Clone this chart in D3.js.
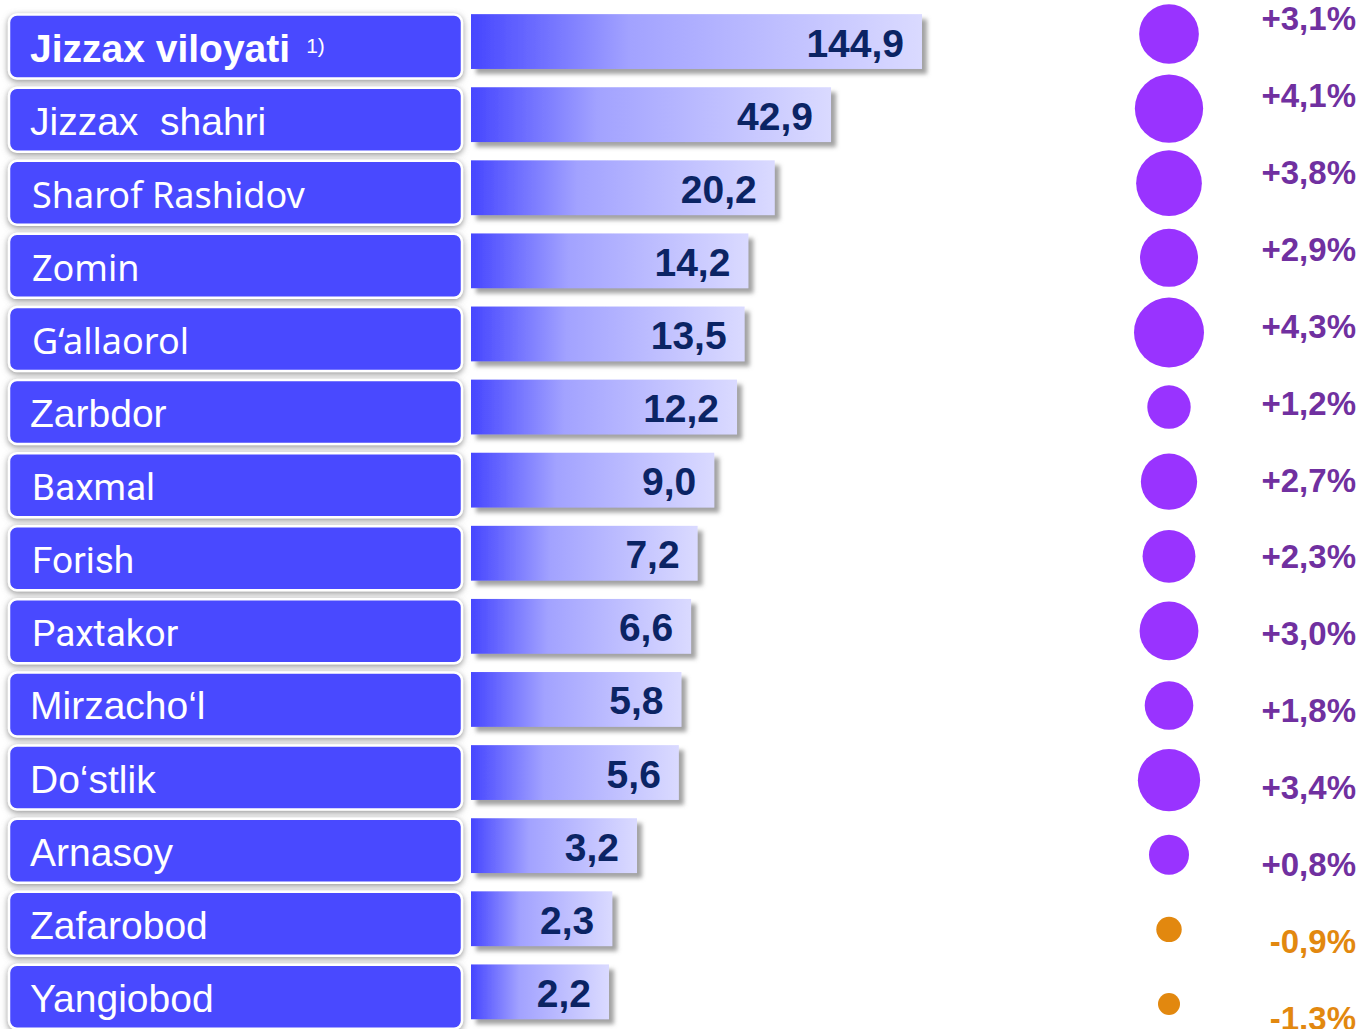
<!DOCTYPE html>
<html>
<head>
<meta charset="utf-8">
<script src="https://cdn.jsdelivr.net/npm/d3@7"></script>
<style>
body { margin: 0; background: #fff; }
</style>
</head>
<body>
<script>
const regions = ["Jizzax viloyati", "Jizzax  shahri", "Sharof Rashidov", "Zomin", "G‘allaorol", "Zarbdor", "Baxmal", "Forish", "Paxtakor", "Mirzacho‘l", "Do‘stlik", "Arnasoy", "Zafarobod", "Yangiobod"];
const values = [144.9, 42.9, 20.2, 14.2, 13.5, 12.2, 9.0, 7.2, 6.6, 5.8, 5.6, 3.2, 2.3, 2.2];
const growth = [3.1, 4.1, 3.8, 2.9, 4.3, 1.2, 2.7, 2.3, 3.0, 1.8, 3.4, 0.8, -0.9, -1.3];
const footnote = "1)";

const width = 1362;
const height = 1029;
const barX0 = 471;

const svg = d3.select("body").append("svg")
  .attr("width", width)
  .attr("height", height);

const defs = svg.append("defs");

const grad = defs.append("linearGradient")
  .attr("id", "barGrad")
  .attr("x1", "0%").attr("x2", "100%")
  .attr("y1", "0%").attr("y2", "0%");
grad.append("stop").attr("offset", "0%").attr("stop-color", "#4646ff");
grad.append("stop").attr("offset", "35%").attr("stop-color", "#a2a2ff");
grad.append("stop").attr("offset", "100%").attr("stop-color", "#dadaff");

defs.append("filter")
  .attr("id", "barShadow")
  .attr("x", "-5%").attr("y", "-20%")
  .attr("width", "115%").attr("height", "150%")
  .append("feDropShadow")
  .attr("dx", 5).attr("dy", 5)
  .attr("stdDeviation", 2)
  .attr("flood-color", "#999")
  .attr("flood-opacity", 0.9);

defs.append("filter")
  .attr("id", "boxShadow")
  .attr("x", "-5%").attr("y", "-20%")
  .attr("width", "110%").attr("height", "145%")
  .append("feDropShadow")
  .attr("dx", 0).attr("dy", 2)
  .attr("stdDeviation", 3)
  .attr("flood-color", "#888")
  .attr("flood-opacity", 0.9);

// row positions
const y = d3.scaleBand()
  .domain(regions)
  .range([5, 5 + 73.1 * regions.length])
  .paddingInner(0.25)
  .paddingOuter(0.125);

const yDot = d3.scalePoint()
  .domain(regions)
  .range([34, 1004]);

const yPct = d3.scalePoint()
  .domain(regions)
  .range([30, 1030]);

const x = d3.scaleLog()
  .domain([2.2, 144.9])
  .range([barX0 + 138, barX0 + 451]);

const r = d3.scaleLinear()
  .domain([-1.3, 4.3])
  .range([11, 35]);

const locale = d3.formatLocale({ decimal: ",", thousands: " ", grouping: [3], currency: ["", ""], minus: "-" });
const fmtVal = locale.format(".1f");
const fmtPct = locale.format("+.1f");

const rows = regions.map((name, i) => ({ name, value: values[i], growth: growth[i], i }));

function labelFont(name) {
  if (["Sharof Rashidov", "Zomin", "G‘allaorol"].includes(name)) return { family: "'Noto Sans'", size: 36, x: 32 };
  if (["Baxmal", "Forish", "Paxtakor"].includes(name)) return { family: "Roboto", size: 37, x: 32 };
  return { family: "'Liberation Sans', Arial, sans-serif", size: 39, x: 30 };
}

// label boxes
const labels = svg.append("g").attr("class", "labels")
  .selectAll("g")
  .data(rows)
  .enter().append("g")
  .attr("transform", (d) => `translate(0, ${ y(d.name) + y.bandwidth() / 2 + 5 })`);

labels.append("rect")
  .attr("x", 9)
  .attr("y", -32)
  .attr("width", 453)
  .attr("height", 64)
  .attr("rx", 8)
  .attr("fill", "#4848ff")
  .attr("stroke", "#fff")
  .attr("stroke-width", 2.5)
  .attr("filter", "url(#boxShadow)");

const labelText = labels.append("text")
  .attr("x", (d) => labelFont(d.name).x)
  .attr("y", 15)
  .style("white-space", "pre")
  .style("font-family", (d) => labelFont(d.name).family)
  .style("font-size", (d) => `${ labelFont(d.name).size }px`)
  .style("font-weight", (d) => d.i === 0 ? "bold" : "normal")
  .attr("fill", "#fff")
  .text((d) => d.name);

labelText.filter((d) => d.i === 0)
  .append("tspan")
  .attr("dx", 16)
  .attr("dy", -9)
  .style("font-size", "21px")
  .style("font-weight", "normal")
  .text(footnote);

// bars
const bars = svg.append("g").attr("class", "bars")
  .selectAll("g")
  .data(rows)
  .enter().append("g");

bars.append("rect")
  .attr("x", barX0)
  .attr("y", (d) => y(d.name))
  .attr("width", (d) => x(d.value) - barX0)
  .attr("height", y.bandwidth())
  .attr("fill", "url(#barGrad)")
  .attr("filter", "url(#barShadow)");

bars.append("text")
  .attr("x", (d) => x(d.value) - 18)
  .attr("y", (d) => y(d.name) + y.bandwidth() / 2 + 15)
  .attr("text-anchor", "end")
  .style("font-family", "'Liberation Sans', Arial, sans-serif")
  .style("font-size", "39px")
  .style("font-weight", "bold")
  .attr("fill", "#0b2464")
  .text((d) => fmtVal(d.value));

// growth dots
const purple = "#9933ff";
const purpleText = "#7030a0";
const orange = "#e2880f";

svg.append("g").attr("class", "dots")
  .selectAll("circle")
  .data(rows)
  .enter().append("circle")
  .attr("cx", 1169)
  .attr("cy", (d) => yDot(d.name))
  .attr("r", (d) => r(d.growth))
  .attr("fill", (d) => d.growth < 0 ? orange : purple);

svg.append("g").attr("class", "pct")
  .selectAll("text")
  .data(rows)
  .enter().append("text")
  .attr("x", 1356)
  .attr("y", (d) => yPct(d.name))
  .attr("text-anchor", "end")
  .style("font-family", "'Liberation Sans', Arial, sans-serif")
  .style("font-size", "33px")
  .style("font-weight", "bold")
  .attr("fill", (d) => d.growth < 0 ? orange : purpleText)
  .text((d) => `${ fmtPct(d.growth) }%`);
</script>
</body>
</html>
